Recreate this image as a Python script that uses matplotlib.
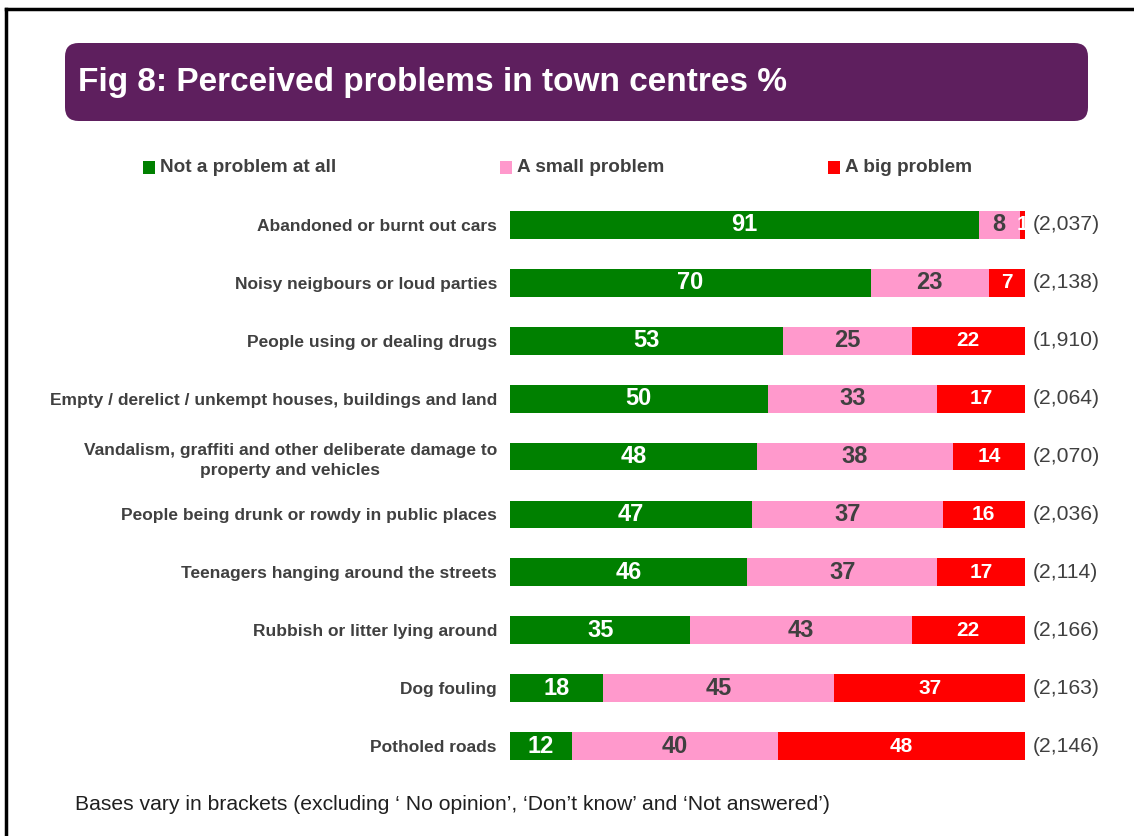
import matplotlib.pyplot as plt
from matplotlib.patches import FancyBboxPatch
from matplotlib.lines import Line2D

# ============ DATA ============
categories = [
    'Abandoned or burnt out cars',
    'Noisy neigbours or loud parties',
    'People using or dealing drugs',
    'Empty / derelict / unkempt houses, buildings and land',
    'Vandalism, graffiti and other deliberate damage to\nproperty and vehicles',
    'People being drunk or rowdy in public places',
    'Teenagers hanging around the streets',
    'Rubbish or litter lying around',
    'Dog fouling',
    'Potholed roads',
]
not_problem = [91, 70, 53, 50, 48, 47, 46, 35, 18, 12]
small_problem = [8, 23, 25, 33, 38, 37, 37, 43, 45, 40]
big_problem = [1, 7, 22, 17, 14, 16, 17, 22, 37, 48]
bases = ['(2,037)', '(2,138)', '(1,910)', '(2,064)', '(2,070)',
         '(2,036)', '(2,114)', '(2,166)', '(2,163)', '(2,146)']
series_names = ['Not a problem at all', 'A small problem', 'A big problem']

plt.rcParams['font.family'] = ['Liberation Sans', 'DejaVu Sans']

GREEN = '#008000'
PINK = '#FF99CC'
RED = '#FF0000'
DARK = '#404040'

fig = plt.figure(figsize=(11.34, 8.36), dpi=100)

# ============ FRAME & TITLE ============
fig.add_artist(Line2D([0.005, 1.0], [0.989, 0.989], color='black', lw=2.5,
                      transform=fig.transFigure))
fig.add_artist(Line2D([0.005, 0.005], [0.0, 0.989], color='black', lw=2.5,
                      transform=fig.transFigure))

box = FancyBboxPatch((65 / 1134, 1 - 121 / 836), (1088 - 65) / 1134, 78 / 836,
                     boxstyle='round,pad=0,rounding_size=0.012',
                     transform=fig.transFigure, facecolor='#5E1F5E',
                     edgecolor='none', mutation_aspect=1134 / 836)
fig.add_artist(box)
fig.text(78 / 1134, 1 - 83 / 836, 'Fig 8: Perceived problems in town centres %',
         color='white', fontsize=24, fontweight='bold', va='center', ha='left')

# ============ LEGEND ============
leg_x = [143, 500, 828]
for x, name, col in zip(leg_x, series_names, [GREEN, PINK, RED]):
    fig.patches.append(plt.Rectangle((x / 1134, 1 - 174 / 836), 12 / 1134, 13 / 836,
                                     transform=fig.transFigure, facecolor=col,
                                     edgecolor='none'))
    fig.text((x + 17) / 1134, 1 - 167 / 836, name, color=DARK, fontsize=13.7,
             fontweight='bold', va='center', ha='left')

# ============ BARS ============
ax = fig.add_axes([510 / 1134, 1 - 775 / 836, 515 / 1134, 579 / 836])
y = list(range(len(categories)))
h = 0.48
left2 = [a for a in not_problem]
left3 = [a + b for a, b in zip(not_problem, small_problem)]

b1 = ax.barh(y, not_problem, height=h, color=GREEN)
b2 = ax.barh(y, small_problem, left=left2, height=h, color=PINK)
b3 = ax.barh(y, big_problem, left=left3, height=h, color=RED)

for bars, vals, col, fs in [(b1, not_problem, 'white', 17), (b2, small_problem, DARK, 17),
                            (b3, big_problem, 'white', 15)]:
    for bar, v in zip(bars, vals):
        t = ax.text(bar.get_x() + bar.get_width() / 2, bar.get_y() + bar.get_height() / 2,
                    str(v), color=col, fontsize=fs,
                    fontweight='bold', ha='center', va='center')
        t.set_clip_path(bar)

for yi, base in zip(y, bases):
    ax.text(101.5, yi, base, color=DARK, fontsize=15.2, ha='left', va='center',
            clip_on=False)

ax.set_xlim(0, 100)
ax.set_ylim(len(categories) - 0.5, -0.5)
ax.set_yticks(y)
ax.set_yticklabels(categories, fontsize=12.5, fontweight='bold', color=DARK,
                   multialignment='center', linespacing=1.45)
ax.tick_params(axis='y', length=0, pad=9.4)
ax.set_xticks([])
for s in ax.spines.values():
    s.set_visible(False)

# ============ FOOTNOTE ============
fig.text(75 / 1134, 1 - 805 / 836,
         'Bases vary in brackets (excluding \u2018 No opinion\u2019, \u2018Don\u2019t know\u2019 and \u2018Not answered\u2019)',
         color='#202020', fontsize=15.2, va='center', ha='left')

plt.savefig('out.png', dpi=100)
